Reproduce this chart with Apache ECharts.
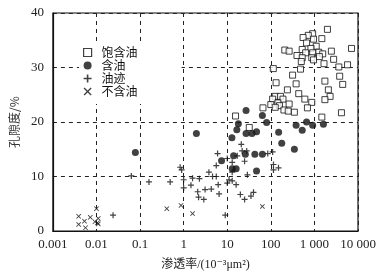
<!DOCTYPE html>
<html><head><meta charset="utf-8">
<script src="https://cdn.jsdelivr.net/npm/echarts@6/dist/echarts.min.js"></script>
<style>html,body{margin:0;padding:0;background:#fff}#c{width:382px;height:276px}</style>
</head><body><div id="c"></div>
<script>
// 饱含油 (saturated oil)
const satX = [1990,912,724,550,1480,955,661,1100,525,830,209,263,1260,2450,630,912,1550,7100,398,525,870,1300,2760,955,500,1660,3630,5760,114,480,3800,316,380,132,1740,4460,240,2090,437,2290,126,166,190,603,110,1740,870,145,100,263,158,126,692,66,200,251,347,4170,1480,15.5,32];
const satY = [37.0,36.2,35.9,35.5,35.3,35.2,34.5,33.9,33.3,33.5,33.2,33.0,32.8,33.0,32.7,32.7,32.5,33.5,32.2,31.8,31.8,32.0,31.5,31.4,31.1,30.7,30.1,30.5,29.8,29.7,28.4,28.6,27.0,27.2,27.5,26.9,25.9,25.9,25.2,24.7,24.7,24.7,24.2,24.2,24.2,24.1,23.6,23.5,23.2,23.3,23.0,22.7,22.6,22.6,22.2,22.0,21.8,21.7,20.9,21.1,19.0];
// 含油 (oily)
const oilX = [0.078,1.96,27,64,18,16.6,27,37,47,12.8,80,151,178,380,525,661,912,1610,347,14,26,43,64,7.4,13,16,47];
const oilY = [14.4,17.9,22.1,21.2,19.7,18.6,17.9,17.9,18.2,17.1,19.9,18.1,16.1,19.4,18.5,20.0,19.4,19.6,15.0,13.8,14.1,14.1,14.1,12.9,11.4,11.4,11.0];
// 油迹 (oil trace)
const trX = [0.063,0.16,0.024,0.49,0.83,0.9,1.0,1.0,1.47,1.6,2.3,2.1,3.1,4.3,2.2,2.9,3.8,4.6,5.6,5.6,6.2,6.5,6.0,10,13,10,13,16,9.0,13,25,29,20,25,35,40,21,22,28,17,85,110,115,150,115,11];
const trY = [10.1,9.0,2.9,9.0,11.7,11.2,9.4,7.9,8.4,9.7,9.6,7.2,7.6,7.7,6.2,5.8,10.8,10.0,10.0,12.0,8.5,6.8,14.2,13.3,12.6,8.8,9.2,8.5,2.9,10.8,12.8,10.3,6.7,5.8,6.4,7.1,15.9,14.7,14.7,13.8,14.2,14.5,12.2,11.6,11.2,9.4];
// 不含油 (no oil)
const noX = [0.0039,0.0039,0.0053,0.0056,0.0072,0.01,0.0092,0.0105,0.011,0.011,0.41,0.87,1.6,64];
const noY = [2.7,1.2,1.8,0.6,2.5,4.1,1.7,1.5,2.3,1.3,4.1,4.7,3.2,4.5];
const xTickLabels = {'0.001':'0.001','0.01':'0.01','0.1':'0.1','1':'1','10':'10','100':'100','1000':'1 000','10000':'10 000'};
const seriesNames = ['饱含油','含油','油迹','不含油'];

const zip = (a,b) => a.map((v,i)=>[v,b[i]]);
const plus = 'path://M4,0H6V4H10V6H6V10H4V6H0V4H4Z';
const cross = 'path://M1.2,0L5,3.8L8.8,0L10,1.2L6.2,5L10,8.8L8.8,10L5,6.2L1.2,10L0,8.8L3.8,5L0,1.2Z';
const serif = '"Liberation Serif","DejaVu Serif",serif';
const cjk = '"Noto Sans CJK SC",sans-serif';

const chart = echarts.init(document.getElementById('c'));
chart.setOption({
  animation:false,
  backgroundColor:'#fff',
  grid:{left:52,right:24,top:13,bottom:43,show:true,borderColor:'#111',borderWidth:1.2,backgroundColor:'transparent'},
  legend:{
    orient:'vertical', left:79, top:42, itemGap:0, itemWidth:8, itemHeight:8,
    padding:[4,44,6,4], backgroundColor:'#fff',
    textStyle:{fontFamily:cjk,fontSize:12,lineHeight:13,color:'#111',padding:[0,0,0,5]},
    data:[
      {name:seriesNames[0],icon:'rect',itemStyle:{color:'#fff',borderColor:'#111',borderWidth:1.2}},
      {name:seriesNames[1],icon:'circle'},
      {name:seriesNames[2],icon:plus},
      {name:seriesNames[3],icon:cross}
    ]
  },
  xAxis:{
    type:'log', logBase:10, min:0.001, max:10000,
    name:'渗透率/(10⁻³μm²)', nameLocation:'middle', nameGap:28,
    nameTextStyle:{fontFamily:serif+',"Noto Sans CJK SC"',fontSize:12,color:'#222'},
    axisLine:{show:true,lineStyle:{color:'#111',width:1.2}},
    axisTick:{show:false},
    axisLabel:{fontFamily:serif,fontSize:13,color:'#222',margin:7,
      formatter:v=>{const k=String(+v.toPrecision(6));return xTickLabels[k]!==undefined?xTickLabels[k]:k;}},
    splitLine:{show:true,lineStyle:{type:[4,4],color:'#222',width:1}}
  },
  yAxis:{
    type:'value', min:0, max:40, interval:10,
    name:'孔隙度/%', nameLocation:'middle', nameGap:21, nameRotate:90,
    nameTextStyle:{fontFamily:cjk,fontSize:12,color:'#333'},
    axisLine:{show:true,lineStyle:{color:'#111',width:1.2}},
    axisTick:{show:false},
    axisLabel:{fontFamily:serif,fontSize:13,color:'#222',margin:9},
    splitLine:{show:true,lineStyle:{type:[4,4],color:'#222',width:1}}
  },
  series:[
    {name:seriesNames[0],type:'scatter',data:zip(satX,satY),symbol:'rect',symbolSize:6,
     itemStyle:{color:'#fff',borderColor:'#111',borderWidth:1},z:3},
    {name:seriesNames[1],type:'scatter',data:zip(oilX,oilY),symbol:'circle',symbolSize:7,
     itemStyle:{color:'#111'},z:4},
    {name:seriesNames[2],type:'scatter',data:zip(trX,trY),symbol:plus,symbolSize:6,
     itemStyle:{color:'#111'},z:4},
    {name:seriesNames[3],type:'scatter',data:zip(noX,noY),symbol:cross,symbolSize:5,
     itemStyle:{color:'#111'},z:4}
  ]
});
</script></body></html>
